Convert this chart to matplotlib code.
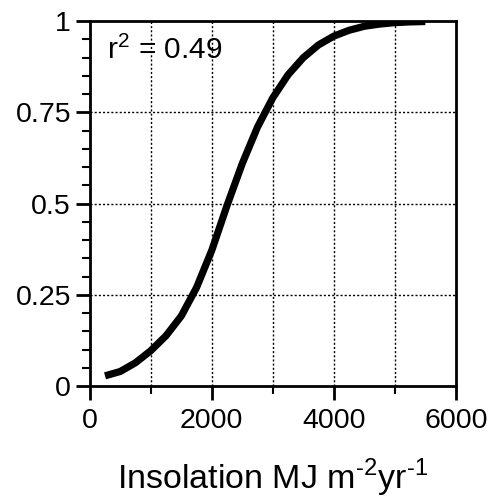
import numpy as np
import matplotlib.pyplot as plt
from matplotlib.ticker import MultipleLocator

# curve
insolation = [250, 500, 750, 1000, 1250, 1500, 1750, 2000, 2250, 2500, 2750,
              3000, 3250, 3500, 3750, 4000, 4250, 4500, 4750, 5000, 5250, 5500]
prob = [0.028, 0.040, 0.064, 0.097, 0.138, 0.192, 0.270, 0.372, 0.495, 0.610,
        0.710, 0.790, 0.853, 0.900, 0.935, 0.959, 0.975, 0.986, 0.992, 0.996,
        0.998, 0.999]

x_major = [0, 2000, 4000, 6000]
y_major = [0, 0.25, 0.5, 0.75, 1]
y_labels = ["0", "0.25", "0.5", "0.75", "1"]

plt.rcParams['font.family'] = ['Liberation Sans', 'DejaVu Sans']
plt.rcParams['mathtext.fontset'] = 'custom'
plt.rcParams['mathtext.rm'] = 'Liberation Sans'

fig = plt.figure(figsize=(4.96, 5.04), dpi=100)
ax = fig.add_axes([0.181, 0.234, 0.738, 0.724])

ax.plot(insolation, prob, color='black', lw=5.2, solid_capstyle='butt',
        solid_joinstyle='round')

ax.set_xlim(0, 6000)
ax.set_ylim(0, 1)
ax.set_xticks(x_major)
ax.set_yticks(y_major)
ax.set_yticklabels(y_labels)
ax.xaxis.set_minor_locator(MultipleLocator(1000))
ax.yaxis.set_minor_locator(MultipleLocator(0.05))

# dotted grid at every 1000 / 0.25
for gx in range(1000, 6000, 1000):
    ax.axvline(gx, color='black', lw=1, ls=(0, (1.5, 1.5)), zorder=0)
for gy in [0.25, 0.5, 0.75]:
    ax.axhline(gy, color='black', lw=1, ls=(0, (1.5, 1.5)), zorder=0)

for s in ax.spines.values():
    s.set_linewidth(2)
ax.tick_params(which='major', length=10, width=2, labelsize=20.5,
               direction='out')
ax.tick_params(axis='x', which='major', pad=6)
ax.tick_params(which='minor', length=6, width=1.5, direction='out')

ax.text(290, 0.92, r'r$^\mathrm{2}$ = 0.49', fontsize=21.5, va='center', ha='left')
ax.set_xlabel(r'Insolation MJ m$^\mathrm{\text{-}2}$yr$^\mathrm{\text{-}1}$',
              fontsize=24.5, labelpad=16)

fig.savefig('out.png', dpi=100)
